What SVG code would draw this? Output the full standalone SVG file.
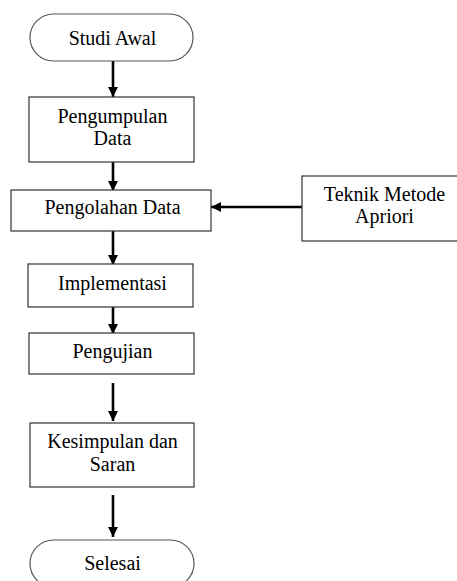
<svg xmlns="http://www.w3.org/2000/svg" width="457" height="581" viewBox="0 0 457 581">
<style>
.box{fill:#fff;stroke:#333;stroke-width:1.2}
.term{fill:#fff;stroke:#555;stroke-width:1.2}
.c{stroke:#000;stroke-width:2.6;fill:none;marker-end:url(#ah)}
</style>
<defs>
<marker id="ah" markerUnits="userSpaceOnUse" markerWidth="10" markerHeight="12" viewBox="0 0 10 12" refX="10" refY="6" orient="auto">
<path d="M0,1 L10,6 L0,11 Z" fill="#000"/>
</marker>
</defs>
<g id="connectors">
<line class="c" x1="113" y1="61" x2="113" y2="97"/>
<line class="c" x1="113" y1="162" x2="113" y2="191"/>
<line class="c" x1="113" y1="231" x2="113" y2="265"/>
<line class="c" x1="113" y1="307" x2="113" y2="334"/>
<line class="c" x1="113" y1="383" x2="113" y2="421"/>
<line class="c" x1="113" y1="495" x2="113" y2="537"/>
<line class="c" x1="302" y1="207" x2="211" y2="207"/>
</g>
<g id="studi-awal">
<rect class="term" x="30" y="14" width="163" height="47" rx="23.5"/>
<text x="112.5" y="45" font-family="Liberation Serif" font-size="20" text-anchor="middle">Studi Awal</text>
</g>
<g id="pengumpulan-data">
<rect class="box" x="29" y="97" width="165" height="65"/>
<text x="112.5" y="123" font-family="Liberation Serif" font-size="20" text-anchor="middle">Pengumpulan</text>
<text x="112.5" y="145" font-family="Liberation Serif" font-size="20" text-anchor="middle">Data</text>
</g>
<g id="pengolahan-data">
<rect class="box" x="11" y="190" width="200" height="41"/>
<text x="112.5" y="214" font-family="Liberation Serif" font-size="20" text-anchor="middle">Pengolahan Data</text>
</g>
<g id="teknik-metode-apriori">
<rect class="box" x="302" y="176" width="165" height="65"/>
<text x="384.5" y="201" font-family="Liberation Serif" font-size="20" text-anchor="middle">Teknik Metode</text>
<text x="384.5" y="223" font-family="Liberation Serif" font-size="20" text-anchor="middle">Apriori</text>
</g>
<g id="implementasi">
<rect class="box" x="28" y="264" width="165" height="43"/>
<text x="112.5" y="290" font-family="Liberation Serif" font-size="20" text-anchor="middle">Implementasi</text>
</g>
<g id="pengujian">
<rect class="box" x="29" y="333" width="165" height="41"/>
<text x="112.5" y="358" font-family="Liberation Serif" font-size="20" text-anchor="middle">Pengujian</text>
</g>
<g id="kesimpulan-dan-saran">
<rect class="box" x="30" y="423" width="164" height="64"/>
<text x="112.5" y="448" font-family="Liberation Serif" font-size="20" text-anchor="middle">Kesimpulan dan</text>
<text x="112.5" y="471" font-family="Liberation Serif" font-size="20" text-anchor="middle">Saran</text>
</g>
<g id="selesai">
<rect class="term" x="30" y="540" width="164" height="47" rx="23.5"/>
<text x="112.5" y="570" font-family="Liberation Serif" font-size="20" text-anchor="middle">Selesai</text>
</g>
</svg>
